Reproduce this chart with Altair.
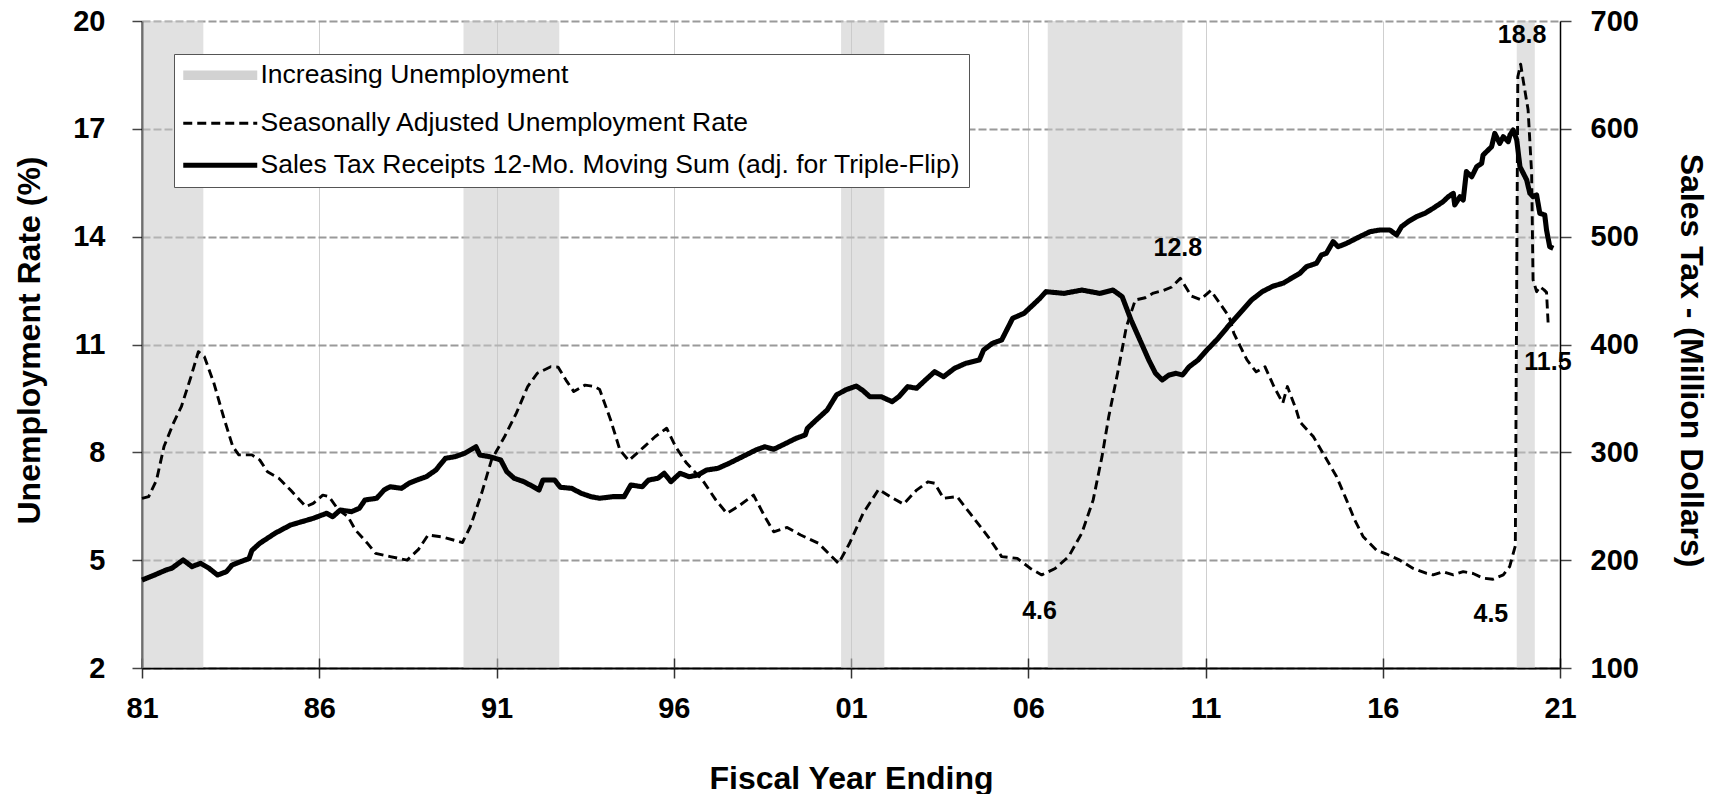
import altair as alt
import pandas as pd

# ---------------- data ----------------
unemp_year = [1981.00, 1981.19, 1981.41, 1981.62, 1981.89, 1982.11, 1982.38, 1982.59, 1982.76, 1983.03,
              1983.30, 1983.56, 1983.73, 1984.10, 1984.32, 1984.54, 1984.86, 1985.19, 1985.62, 1985.83,
              1986.10, 1986.27, 1986.54, 1986.81, 1987.02, 1987.35, 1987.59, 1988.00, 1988.48, 1988.80,
              1989.07, 1989.50, 1990.04, 1990.26, 1990.58, 1990.86, 1991.23, 1991.56, 1991.88, 1992.15,
              1992.53, 1992.74, 1992.96, 1993.18, 1993.50, 1993.77, 1993.91, 1994.22, 1994.48, 1994.73,
              1995.17, 1995.48, 1995.80, 1996.05, 1996.36, 1996.81, 1997.19, 1997.50, 1997.81, 1998.25,
              1998.57, 1998.82, 1999.20, 1999.58, 2000.08, 2000.65, 2000.96, 2001.34, 2001.78, 2002.10,
              2002.48, 2002.85, 2003.17, 2003.36, 2003.61, 2003.99, 2004.36, 2004.87, 2005.25, 2005.69,
              2006.06, 2006.38, 2006.76, 2007.14, 2007.51, 2007.83, 2008.08, 2008.27, 2008.52, 2008.77,
              2009.02, 2009.30, 2009.53, 2009.80, 2010.05, 2010.29, 2010.60, 2010.85, 2011.15, 2011.40,
              2011.67, 2011.80, 2012.17, 2012.43, 2012.68, 2012.93, 2013.18, 2013.31, 2013.56, 2013.66,
              2014.04, 2014.37, 2014.70, 2014.98, 2015.21, 2015.45, 2015.82, 2016.11, 2016.48, 2016.86,
              2017.24, 2017.42, 2017.70, 2017.99, 2018.27, 2018.55, 2018.83, 2019.11, 2019.40, 2019.58,
              2019.74, 2019.81, 2019.89, 2019.96, 2020.10, 2020.20, 2020.24, 2020.34, 2020.43, 2020.55,
              2020.62, 2020.67]
unemp_rate = [6.72, 6.77, 7.23, 8.16, 8.82, 9.27, 10.10, 10.80, 10.66, 9.92,
              8.99, 8.16, 7.93, 7.93, 7.79, 7.46, 7.28, 6.95, 6.49, 6.58,
              6.81, 6.77, 6.40, 6.21, 5.84, 5.48, 5.19, 5.10, 5.00, 5.30,
              5.70, 5.64, 5.49, 5.93, 6.86, 7.79, 8.44, 9.09, 9.83, 10.20,
              10.38, 10.37, 10.01, 9.69, 9.87, 9.83, 9.75, 8.90, 8.07, 7.77,
              8.16, 8.44, 8.67, 8.16, 7.70, 7.23, 6.67, 6.30, 6.49, 6.81,
              6.21, 5.79, 5.91, 5.70, 5.47, 4.91, 5.47, 6.30, 6.97, 6.77,
              6.56, 6.95, 7.18, 7.14, 6.72, 6.77, 6.30, 5.65, 5.10, 5.05,
              4.77, 4.59, 4.77, 5.10, 5.75, 6.67, 7.88, 8.99, 10.20, 11.50,
              12.24, 12.30, 12.43, 12.50, 12.60, 12.84, 12.35, 12.25, 12.50, 12.15,
              11.77, 11.31, 10.57, 10.24, 10.38, 9.83, 9.37, 9.83, 9.18, 8.85,
              8.44, 7.88, 7.32, 6.67, 6.12, 5.65, 5.28, 5.17, 5.00, 4.77,
              4.63, 4.59, 4.68, 4.59, 4.68, 4.63, 4.50, 4.47, 4.59, 4.82,
              5.40, 18.45, 18.80, 18.36, 17.53, 15.76, 12.80, 12.47, 12.61, 12.52,
              12.45, 11.50]

tax_year = [1981.00, 1981.35, 1981.68, 1981.84, 1982.16, 1982.41, 1982.65, 1982.89, 1983.13, 1983.38,
            1983.54, 1983.78, 1984.02, 1984.10, 1984.32, 1984.75, 1985.19, 1985.51, 1985.83, 1986.21,
            1986.38, 1986.59, 1986.91, 1987.13, 1987.29, 1987.62, 1987.83, 1988.00, 1988.32, 1988.53,
            1988.75, 1989.02, 1989.29, 1989.56, 1989.83, 1990.10, 1990.42, 1990.53, 1990.80, 1991.12,
            1991.29, 1991.50, 1991.77, 1992.04, 1992.20, 1992.31, 1992.64, 1992.80, 1993.12, 1993.39,
            1993.66, 1993.91, 1994.29, 1994.60, 1994.79, 1995.11, 1995.29, 1995.55, 1995.73, 1995.92,
            1996.18, 1996.43, 1996.68, 1996.93, 1997.25, 1997.56, 1997.94, 1998.32, 1998.57, 1998.82,
            1999.07, 1999.45, 1999.71, 1999.77, 2000.02, 2000.33, 2000.59, 2000.84, 2001.15, 2001.34,
            2001.53, 2001.85, 2002.16, 2002.35, 2002.60, 2002.85, 2003.10, 2003.36, 2003.61, 2003.92,
            2004.24, 2004.62, 2004.74, 2004.99, 2005.25, 2005.44, 2005.56, 2005.88, 2006.13, 2006.32,
            2006.50, 2007.01, 2007.51, 2008.02, 2008.39, 2008.65, 2008.90, 2009.15, 2009.40, 2009.59,
            2009.78, 2009.97, 2010.16, 2010.35, 2010.54, 2010.79, 2011.04, 2011.36, 2011.67, 2012.05,
            2012.30, 2012.60, 2012.90, 2013.20, 2013.45, 2013.66, 2013.85, 2014.13, 2014.27, 2014.41,
            2014.60, 2014.74, 2014.98, 2015.26, 2015.45, 2015.64, 2015.92, 2016.20, 2016.39, 2016.53,
            2016.72, 2016.95, 2017.19, 2017.42, 2017.70, 2017.85, 2017.99, 2018.03, 2018.18, 2018.27,
            2018.36, 2018.51, 2018.65, 2018.79, 2018.83, 2019.07, 2019.16, 2019.30, 2019.40, 2019.54,
            2019.59, 2019.68, 2019.78, 2019.87, 2020.06, 2020.15, 2020.24, 2020.34, 2020.43, 2020.57,
            2020.62, 2020.71, 2020.81]
tax_value = [181.6, 186.2, 190.9, 192.5, 200.2, 194.0, 197.1, 192.5, 186.2, 189.3,
             195.5, 198.6, 201.5, 209.0, 215.6, 224.9, 232.6, 235.7, 238.8, 243.5,
             240.3, 246.5, 245.0, 248.1, 255.8, 257.4, 265.1, 268.1, 266.6, 271.3,
             274.3, 277.4, 283.6, 294.5, 296.0, 299.1, 305.2, 297.5, 296.0, 292.9,
             282.1, 275.9, 272.8, 268.1, 265.1, 274.3, 274.3, 267.6, 266.6, 262.0,
             258.9, 257.4, 258.9, 258.9, 269.7, 268.1, 274.3, 275.9, 280.6, 272.8,
             280.6, 277.4, 279.0, 283.6, 285.2, 289.8, 296.0, 302.2, 305.2, 302.8,
             306.8, 313.0, 316.1, 322.3, 330.0, 339.3, 353.2, 357.8, 361.5, 357.2,
             351.6, 351.6, 347.0, 351.6, 360.9, 359.4, 367.1, 374.8, 370.1, 377.9,
             382.6, 385.6, 394.9, 401.1, 404.2, 416.5, 424.3, 428.9, 436.6, 442.5,
             449.0, 447.4, 450.5, 447.4, 450.5, 444.3, 422.7, 404.2, 385.6, 373.3,
             367.1, 371.7, 373.3, 371.7, 379.4, 385.6, 394.9, 405.8, 418.1, 432.0,
             441.3, 449.0, 454.0, 457.0, 462.0, 466.0, 472.2, 475.3, 483.0, 484.6,
             495.4, 490.7, 493.8, 498.5, 501.6, 504.6, 506.2, 506.2, 501.6, 509.3,
             514.0, 518.5, 521.7, 526.3, 532.4, 537.1, 540.2, 529.4, 537.1, 534.0,
             560.3, 555.6, 564.9, 568.0, 575.7, 583.4, 595.8, 586.5, 592.7, 588.1,
             594.3, 598.9, 589.7, 564.9, 552.6, 540.2, 537.1, 538.7, 521.7, 520.1,
             506.2, 490.7, 489.2]

band_start = [1981.00, 1990.07, 2000.72, 2006.55, 2019.78]
band_end = [1982.73, 1992.77, 2001.94, 2010.35, 2020.29]

note_year = [2019.93, 2010.22, 2006.32, 2019.05, 2020.66]
note_rate = [19.62, 13.69, 3.59, 3.50, 10.51]
note_text = ["18.8", "12.8", "4.6", "4.5", "11.5"]

x_ticks = [1981, 1986, 1991, 1996, 2001, 2006, 2011, 2016, 2021]
left_ticks = [2, 5, 8, 11, 14, 17, 20]
right_ticks = [100, 200, 300, 400, 500, 600, 700]

S_BAND = "Increasing Unemployment"
S_UNEMP = "Seasonally Adjusted Unemployment Rate"
S_TAX = "Sales Tax Receipts 12-Mo. Moving Sum (adj. for Triple-Flip)"

# ---------------- styling ----------------
FONT = "Liberation Sans"
W, H = 1418, 647

series_domain = [S_UNEMP, S_TAX, "pad1", S_BAND]
stroke_range = ["#000000", "#000000", "#ffffff", "#d2d2d2"]
dash_range = [[9, 5], [1, 0], [1, 0], [1, 0]]
width_range = [2.9, 9.5]   # point scale: 2.9, 5.1, 7.3, 9.5

xscale = alt.Scale(domain=[1981, 2021], nice=False, zero=False)
yl_scale = alt.Scale(domain=[2, 20], nice=False, zero=False)
yr_scale = alt.Scale(domain=[100, 700], nice=False, zero=False)


def make_legend():
    return alt.Legend(
        title=None, values=[S_BAND, S_UNEMP, S_TAX], orient="none",
        legendX=32, legendY=33, direction="vertical", columns=1,
        padding=8, strokeColor="#555555", fillColor="#ffffff", cornerRadius=0,
        symbolType="M-5,0H5", symbolSize=219, symbolOffset=25,
        labelOffset=27, labelFont=FONT, labelFontSize=26.5, labelColor="#000000",
        labelLimit=1000, rowPadding=15,
    )


stroke_enc = alt.Stroke("series:N", scale=alt.Scale(domain=series_domain, range=stroke_range),
                        legend=make_legend())
dash_enc = alt.StrokeDash("series:N", scale=alt.Scale(domain=series_domain, range=dash_range),
                          legend=make_legend())
width_enc = alt.StrokeWidth("series:N",
                            scale=alt.Scale(type="point", domain=series_domain, range=width_range, padding=0),
                            legend=make_legend())

x_axis = alt.Axis(
    values=x_ticks, labelExpr="substring(toString(datum.value), 2, 4)",
    grid=True, gridColor="#cfcfcf", gridWidth=1,
    domainColor="#000000", domainWidth=2, tickColor="#333333", tickWidth=1.5, tickSize=10,
    labelFont=FONT, labelFontSize=29, labelFontWeight="bold", labelColor="#000000",
    labelPadding=16, labelFlush=False, labelOverlap=False,
    title="Fiscal Year Ending", titleFont=FONT, titleFontSize=32, titleFontWeight="bold",
    titleColor="#000000", titleX=W / 2, titleY=110, titleAlign="center", titleBaseline="middle",
    titleAngle=0,
)
x_inner_axis = alt.Axis(
    orient="top", offset=-H, values=x_ticks, domain=False, labels=False, grid=False,
    ticks=True, tickSize=10, tickColor="#333333", tickWidth=1.5, title=None,
)
yl_axis = alt.Axis(
    orient="left", values=left_ticks, grid=True, gridColor="#9a9a9a", gridDash=[8, 3], gridWidth=2,
    domainColor="#000000", domainWidth=2, tickColor="#444444", tickWidth=1.5, tickSize=10,
    labelFont=FONT, labelFontSize=29, labelFontWeight="bold", labelColor="#000000", labelPadding=27,
    title="Unemployment Rate (%)", titleFont=FONT, titleFontSize=32, titleFontWeight="bold",
    titleColor="#000000", titleAngle=270, titleX=-113, titleY=319, titleAlign="center",
    titleBaseline="middle",
)
yr_axis = alt.Axis(
    orient="right", values=right_ticks, grid=False,
    domainColor="#000000", domainWidth=1.5, tickColor="#444444", tickWidth=1.5, tickSize=11,
    labelFont=FONT, labelFontSize=29, labelFontWeight="bold", labelColor="#000000", labelPadding=19,
    title="Sales Tax - (Million Dollars)", titleFont=FONT, titleFontSize=32, titleFontWeight="bold",
    titleColor="#000000", titleAngle=90, titleX=130, titleY=339, titleAlign="center",
    titleBaseline="middle",
)

# ---------------- tables ----------------
band_df = pd.DataFrame({"start": band_start, "end": band_end})
u_df = pd.DataFrame({"year": unemp_year, "rate": unemp_rate, "series": S_UNEMP})
t_df = pd.DataFrame({"year": tax_year, "value": tax_value, "series": S_TAX})
n_df = pd.DataFrame({"year": note_year, "rate": note_rate, "label": note_text})

bands = alt.Chart(band_df).mark_rect(color="#c8c8c8", opacity=0.55).encode(
    x=alt.X("start:Q", scale=xscale, axis=x_axis),
    x2="end:Q",
)

unemp_line = alt.Chart(u_df).mark_line(strokeJoin="round").encode(
    x=alt.X("year:Q", scale=xscale, axis=None),
    y=alt.Y("rate:Q", scale=yl_scale, axis=yl_axis),
    stroke=stroke_enc, strokeDash=dash_enc, strokeWidth=width_enc,
)

notes = alt.Chart(n_df).mark_text(font=FONT, fontSize=25, fontWeight="bold", color="#000000",
                                  align="center", baseline="middle").encode(
    x=alt.X("year:Q", scale=xscale, axis=None),
    y=alt.Y("rate:Q", scale=yl_scale, axis=None),
    text="label:N",
)

tax_line = alt.Chart(t_df).mark_line(strokeJoin="round").encode(
    x=alt.X("year:Q", scale=xscale, axis=x_inner_axis),
    y=alt.Y("value:Q", scale=yr_scale, axis=yr_axis),
    stroke=stroke_enc, strokeDash=dash_enc, strokeWidth=width_enc,
)

chart = (
    alt.layer(bands, unemp_line, notes, tax_line)
    .resolve_scale(y="independent")
    .resolve_axis(x="independent", y="independent")
    .properties(
        width=W, height=H,
        padding={"left": 134, "top": 13, "right": 148, "bottom": 126},
        autosize=alt.AutoSizeParams(type="none"),
        background="#ffffff",
    )
    .configure(font=FONT)
    .configure_view(stroke=None)
)

chart.save("out.html", embed_options={"renderer": "svg", "actions": False})
